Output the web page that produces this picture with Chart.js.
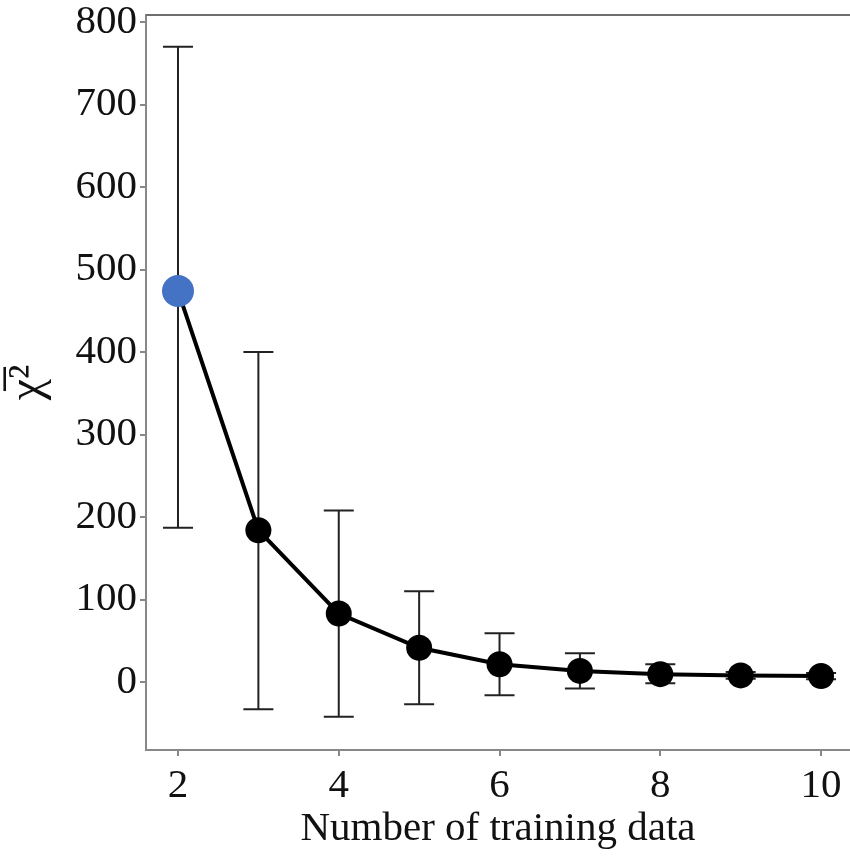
<!DOCTYPE html>
<html>
<head>
<meta charset="utf-8">
<script src="https://cdn.jsdelivr.net/npm/chart.js@4/dist/chart.umd.min.js"></script>
<style>
  html, body { margin: 0; padding: 0; background: #fff; overflow: hidden; }
  canvas { display: block; }
</style>
</head>
<body>
<canvas id="chart1" width="850" height="856"></canvas>
<script>
const trainCounts = [2, 3, 4, 5, 6, 7, 8, 9, 10];
const chiMean = [474, 184, 83, 41.5, 21.5, 13.5, 9.5, 8, 7.3];
const errLow = [187, -33, -42, -27, -16, -8, -1.5, 4, 3.5];
const errHigh = [770, 400, 208, 110, 59, 35, 21.5, 12, 11];
const xTicks = [2, 4, 6, 8, 10];
const yTicks = [0, 100, 200, 300, 400, 500, 600, 700, 800];

const serif = "'Liberation Serif', 'Times New Roman', serif";

// error bars, drawn under the line and markers
const errorBars = {
  id: "errorBars",
  beforeDatasetsDraw(chart) {
    const ctx = chart.ctx;
    const x = chart.scales.x, y = chart.scales.y;
    ctx.save();
    ctx.strokeStyle = "#222";
    ctx.lineWidth = 2;
    trainCounts.forEach((n, i) => {
      const px = x.getPixelForValue(n);
      const lo = y.getPixelForValue(errLow[i]);
      const hi = y.getPixelForValue(errHigh[i]);
      ctx.beginPath();
      ctx.moveTo(px, lo); ctx.lineTo(px, hi);
      ctx.moveTo(px - 15, lo); ctx.lineTo(px + 15, lo);
      ctx.moveTo(px - 15, hi); ctx.lineTo(px + 15, hi);
      ctx.stroke();
    });
    ctx.restore();
  },
  afterDraw(chart) {
    // top frame line
    const ctx = chart.ctx, a = chart.chartArea;
    ctx.save();
    ctx.strokeStyle = "#6e6e6e";
    ctx.lineWidth = 2;
    ctx.beginPath();
    ctx.moveTo(a.left, a.top); ctx.lineTo(a.right, a.top);
    ctx.stroke();
    ctx.restore();
  },
};

new Chart("chart1", {
  type: "line",
  data: {
    datasets: [
      {
        data: trainCounts.map((n, i) => ({ x: n, y: chiMean[i] })),
        borderColor: "#000",
        borderWidth: 4,
        pointRadius: (c) => (c.dataIndex === 0 ? 16 : 13),
        pointBackgroundColor: (c) => (c.dataIndex === 0 ? "#4472C4" : "#000"),
        pointBorderWidth: 0,
        fill: false,
        tension: 0,
      },
    ],
  },
  options: {
    responsive: false,
    animation: false,
    layout: { autoPadding: false, padding: { top: 15, right: 0, left: 0, bottom: 0 } },
    plugins: { legend: { display: false }, tooltip: { enabled: false } },
    scales: {
      x: {
        type: "linear",
        min: 1.602,
        max: 10.36,
        afterBuildTicks: (s) => { s.ticks = xTicks.map((v) => ({ value: v })); },
        afterFit: (s) => { s.height = 106; s.paddingLeft = 0; s.paddingRight = 0; },
        grid: { drawOnChartArea: false, drawTicks: true, tickLength: 6, color: "#888", lineWidth: 2 },
        border: { color: "#888", width: 2 },
        ticks: { color: "#111", padding: 6, font: { family: serif, size: 41 } },
        title: {
          display: true,
          text: "Number of training data",
          color: "#111",
          font: { family: serif, size: 41 },
          padding: { top: 0, bottom: 2 },
        },
      },
      y: {
        type: "linear",
        min: -82.4,
        max: 808.5,
        afterBuildTicks: (s) => { s.ticks = yTicks.map((v) => ({ value: v })); },
        afterFit: (s) => { s.width = 146; s.paddingTop = 0; s.paddingBottom = 0; },
        grid: { drawOnChartArea: false, drawTicks: true, tickLength: 6, color: "#888", lineWidth: 2 },
        border: { color: "#888", width: 2 },
        ticks: { color: "#111", padding: 3, font: { family: serif, size: 41 } },
        title: {
          display: true,
          text: "χ\u0305²",
          color: "#111",
          font: { family: serif, size: 48 },
          padding: { top: 0, bottom: 4 },
        },
      },
    },
  },
  plugins: [errorBars],
});
</script>
</body>
</html>
